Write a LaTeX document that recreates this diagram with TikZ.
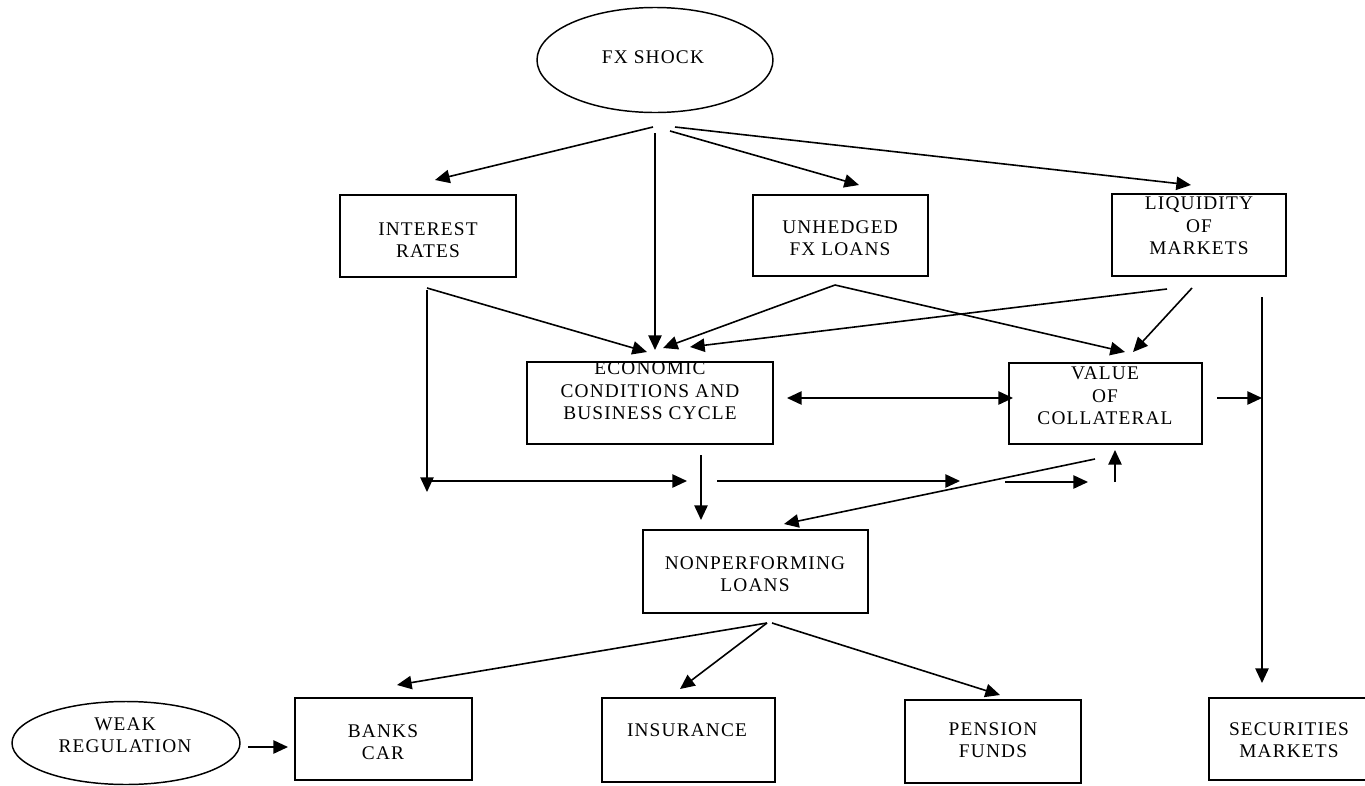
\documentclass[tikz,border=0pt]{standalone}
\usepackage{fontspec}
\setmainfont{Liberation Serif}[LetterSpace=6]
\usetikzlibrary{arrows.meta,shapes.geometric}
\begin{document}
\begin{tikzpicture}[x=0.75pt,y=-0.75pt,
  box/.style={draw,line width=1.1pt,rectangle,inner sep=0pt},
  oval/.style={draw,line width=1.1pt,ellipse,inner sep=0pt},
  lbl/.style={inner sep=0pt,align=center,font=\fontsize{14.5}{16.8}\selectfont},
  conn/.style={line width=1.2pt,-{Triangle[length=11pt,width=10pt]}},
  dconn/.style={line width=1.2pt,{Triangle[length=11pt,width=10pt]}-{Triangle[length=11pt,width=10pt]}},
  plain/.style={line width=1.2pt}]
\useasboundingbox (0,0) rectangle (1365,786);
\clip (0,0) rectangle (1365,786);
% shapes
\node[oval,minimum width=177pt,minimum height=78.75pt] (fx) at (655,60) {};
\node[box,minimum width=132pt,minimum height=61.5pt] (ir) at (428,236) {};
\node[box,minimum width=131.25pt,minimum height=60.75pt] (unh) at (840.5,235.5) {};
\node[box,minimum width=130.5pt,minimum height=61.5pt] (liq) at (1199,235) {};
\node[box,minimum width=184.5pt,minimum height=61.5pt] (econ) at (650,403) {};
\node[box,minimum width=144.75pt,minimum height=60.75pt] (val) at (1105.5,403.5) {};
\node[box,minimum width=168.75pt,minimum height=62.25pt] (npl) at (755.5,571.5) {};
\node[box,minimum width=132.75pt,minimum height=61.5pt] (banks) at (383.5,739) {};
\node[box,minimum width=129.75pt,minimum height=63pt] (ins) at (688.5,740) {};
\node[box,minimum width=132pt,minimum height=62.25pt] (pen) at (993,741.5) {};
\node[box,minimum width=121.5pt,minimum height=61.5pt] (sec) at (1290,739) {};
\node[oval,minimum width=171pt,minimum height=62.25pt] (weak) at (126,743) {};
% labels
\node[lbl] (fxt) at (653,57) {FX SHOCK};
\node[lbl] (irt) at (428,240) {INTEREST\\RATES};
\node[lbl] (unht) at (840,238) {UNHEDGED\\FX LOANS};
\node[lbl] (liqt) at (1199,226) {LIQUIDITY\\OF\\MARKETS};
\node[lbl] (econt) at (650,391) {ECONOMIC\\CONDITIONS AND\\BUSINESS CYCLE};
\node[lbl] (valt) at (1105,396) {VALUE\\OF\\COLLATERAL};
\node[lbl] (nplt) at (755,574) {NONPERFORMING\\LOANS};
\node[lbl] (bankst) at (383,742) {BANKS\\CAR};
\node[lbl] (inst) at (687,730) {INSURANCE};
\node[lbl] (pent) at (993,740) {PENSION\\FUNDS};
\node[lbl] (sect) at (1289,740) {SECURITIES\\MARKETS};
\node[lbl] (weakt) at (125,735) {WEAK\\REGULATION};
% connector end points
\coordinate (fxa) at (653,127);
\coordinate (fxb) at (655,133);
\coordinate (fxc) at (670,131);
\coordinate (fxd) at (675,127);
\coordinate (irin) at (435,180);
\coordinate (econin1) at (655,350);
\coordinate (unhin) at (859,185);
\coordinate (liqin) at (1191,185);
\coordinate (irout) at (427,288);
\coordinate (irdown) at (427,290);
\coordinate (econin0) at (647,352);
\coordinate (corner) at (427,492);
\coordinate (hstart) at (427,481);
\coordinate (hend) at (687,481);
\coordinate (unhout) at (835,285);
\coordinate (econin2) at (663,348);
\coordinate (valin1) at (1125,352);
\coordinate (liqout1) at (1167,289);
\coordinate (econin3) at (690,347);
\coordinate (liqout2) at (1192,288);
\coordinate (valin2) at (1133,352);
\coordinate (econr) at (787,398);
\coordinate (vall) at (1013,398);
\coordinate (valr) at (1217,398);
\coordinate (vline) at (1262,398);
\coordinate (vtop) at (1262,297);
\coordinate (secin) at (1262,683);
\coordinate (econout) at (701,455);
\coordinate (nplin1) at (701,520);
\coordinate (h2a) at (717,481);
\coordinate (h2b) at (960,481);
\coordinate (h3a) at (1005,482);
\coordinate (h3b) at (1088,482);
\coordinate (upa) at (1115,482);
\coordinate (upb) at (1115,450);
\coordinate (valout) at (1095,459);
\coordinate (nplin2) at (784,524);
\coordinate (nplout1) at (767,623);
\coordinate (nplout2) at (772,623);
\coordinate (banksin) at (397,685);
\coordinate (insin) at (680,689);
\coordinate (penin) at (1000,695);
\coordinate (weakout) at (248,747);
\coordinate (banksl) at (288,747);
% connectors
\draw[conn] (fxa) -- (irin);
\draw[conn] (fxb) -- (econin1);
\draw[conn] (fxc) -- (unhin);
\draw[conn] (fxd) -- (liqin);
\draw[conn] (irout) -- (econin0);
\draw[conn] (irdown) -- (corner);
\draw[conn] (hstart) -- (hend);
\draw[conn] (unhout) -- (econin2);
\draw[conn] (unhout) -- (valin1);
\draw[conn] (liqout1) -- (econin3);
\draw[conn] (liqout2) -- (valin2);
\draw[dconn] (econr) -- (vall);
\draw[conn] (valr) -- (vline);
\draw[conn] (vtop) -- (secin);
\draw[conn] (econout) -- (nplin1);
\draw[conn] (h2a) -- (h2b);
\draw[conn] (h3a) -- (h3b);
\draw[conn] (upa) -- (upb);
\draw[conn] (valout) -- (nplin2);
\draw[conn] (nplout1) -- (banksin);
\draw[conn] (nplout1) -- (insin);
\draw[conn] (nplout2) -- (penin);
\draw[conn] (weakout) -- (banksl);
\end{tikzpicture}
\end{document}
